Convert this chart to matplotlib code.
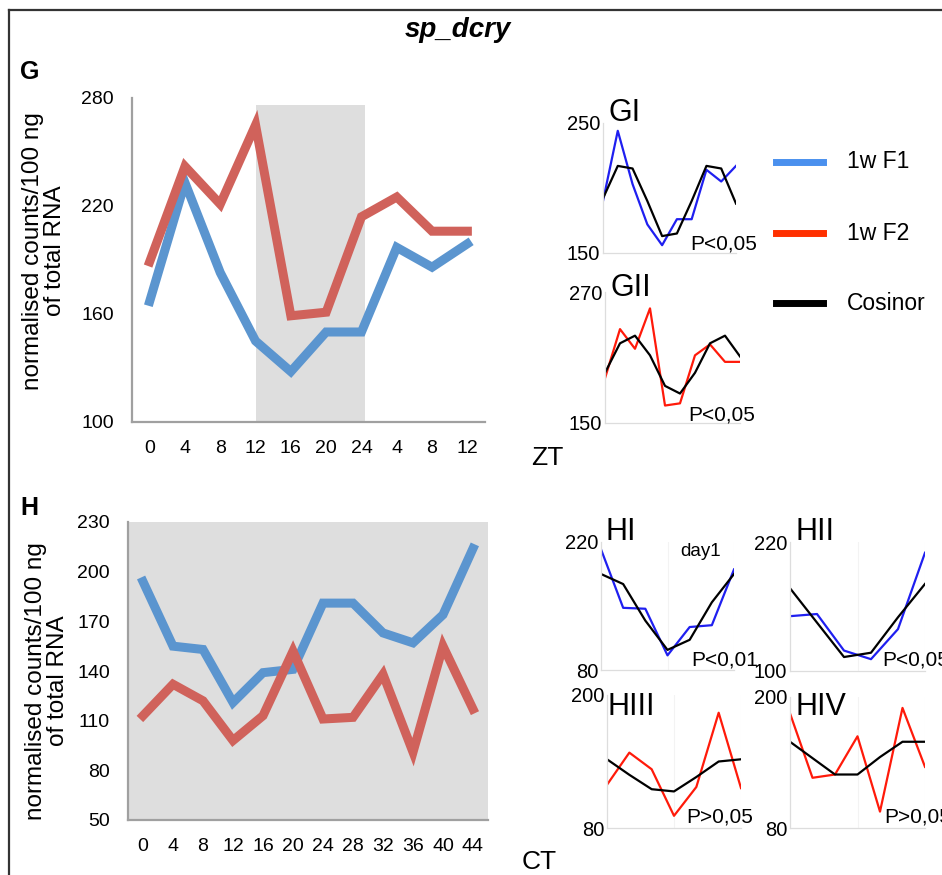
import numpy as np
import matplotlib
matplotlib.use('Agg')
import matplotlib.pyplot as plt
from matplotlib.lines import Line2D

plt.rcParams['font.family'] = ['Liberation Sans', 'DejaVu Sans']

W, H = 942, 875

# ---- data ----
g_labels = ['0', '4', '8', '12', '16', '20', '24', '4', '8', '12']
g_f1 = [167, 233, 183, 145, 128, 150, 150, 197, 186, 199]
g_f2 = [189, 242, 221, 265, 159, 161, 214, 225, 206, 206]

h_labels = ['0', '4', '8', '12', '16', '20', '24', '28', '32', '36', '40', '44']
h_f1 = [194, 155, 153, 121, 139, 141, 181, 181, 163, 157, 174, 214]
h_f2 = [113, 132, 122, 98, 113, 152, 111, 112, 138, 91, 155, 117]

gi_f1 = [190, 244, 203, 172, 156, 176, 176, 214, 205, 217]
gi_cos = [192, 217, 215, 190, 163, 165, 190, 217, 215, 188]
gii_f2 = [191, 236, 218, 255, 166, 168, 212, 222, 206, 206]
gii_cos = [196, 223, 230, 212, 184, 177, 196, 223, 230, 211]

hi_f1 = [212, 148, 147, 96, 127, 129, 190]
hi_cos = [185, 174, 134, 102, 113, 154, 185]
hii_f1 = [151, 153, 119, 111, 139, 210]
hii_cos = [177, 145, 113, 117, 150, 181]
hiii_f2 = [119, 148, 133, 91, 117, 184, 116]
hiii_cos = [142, 128, 115, 113, 126, 140, 142]
hiv_f2 = [185, 126, 129, 164, 95, 190, 136]
hiv_cos = [159, 144, 129, 129, 145, 159, 159]

BLUE_M = '#5b95cf'
RED_M = '#d0625b'
BLUE_S = '#1f1ff0'
RED_S = '#ff1a0a'
YLABEL = 'normalised counts/100 ng\nof total RNA'


def ax_px(l, t, r, b):
    return fig.add_axes([l / W, 1 - b / H, (r - l) / W, (b - t) / H])


def fig_text(x, y, s, **kw):
    fig.text(x / W, 1 - y / H, s, **kw)


fig = plt.figure(figsize=(W / 100, H / 100), dpi=100)

# frame
fig.add_artist(Line2D([9 / W, 1.0], [1 - 9.5 / H] * 2, color='#333333', lw=1.6))
fig.add_artist(Line2D([9 / W] * 2, [0, 1 - 9.5 / H], color='#333333', lw=1.6))

fig_text(458, 30, 'sp_dcry', fontsize=20, fontweight='bold', fontstyle='italic',
         ha='center', va='center')


def main_style(ax, yt):
    for s in ['top', 'right']:
        ax.spines[s].set_visible(False)
    for s in ['left', 'bottom']:
        ax.spines[s].set_color('#a0a0a0')
        ax.spines[s].set_linewidth(1.6)
    ax.set_yticks(yt)
    ax.tick_params(length=0, labelsize=14, pad=13)


# ---- G ----
ax = ax_px(132, 98, 485, 422)
x = np.arange(len(g_labels))
ax.axvspan(3, 6.1, ymax=0.978, color='#dedede', lw=0)
ax.plot(x, g_f1, color=BLUE_M, lw=6.5, solid_joinstyle='miter')
ax.plot(x, g_f2, color=RED_M, lw=6.5, solid_joinstyle='miter')
ax.set_xlim(-0.5, len(g_labels) - 0.5)
ax.set_ylim(100, 280)
ax.set_xticks(x)
ax.set_xticklabels(g_labels)
main_style(ax, [100, 160, 220, 280])
fig_text(44, 251, YLABEL, fontsize=17.5, rotation=90, ha='center', va='center',
         multialignment='center', linespacing=1.0)
fig_text(20, 72, 'G', fontsize=18, fontweight='bold', va='center')
fig_text(531, 458, 'ZT', fontsize=19, va='center')

# ---- H ----
ax = ax_px(128, 522, 488, 820)
ax.set_facecolor('#dedede')
x = np.arange(len(h_labels))
ax.plot(x, h_f1, color=BLUE_M, lw=6.5, solid_joinstyle='miter')
ax.plot(x, h_f2, color=RED_M, lw=6.5, solid_joinstyle='miter')
ax.set_xlim(-0.5, len(h_labels) - 0.5)
ax.set_ylim(50, 230)
ax.set_xticks(x)
ax.set_xticklabels(h_labels)
main_style(ax, [50, 80, 110, 140, 170, 200, 230])
fig_text(47, 681, YLABEL, fontsize=17.5, rotation=90, ha='center', va='center',
         multialignment='center', linespacing=1.0)
fig_text(20, 508, 'H', fontsize=18, fontweight='bold', va='center')
fig_text(522, 862, 'CT', fontsize=19, va='center')


# ---- small panels ----
def small(rect, series, colors, ylim, label, lab_xy, ptxt, p_xy, grid=False):
    ax = ax_px(*rect)
    n = len(series[0])
    if grid:
        for gx in [(n - 1) / 2, n - 1]:
            ax.axvline(gx, color='#f3f3f3', lw=0.8, zorder=0)
    for s, c in zip(series, colors):
        ax.plot(np.arange(n), s, color=c, lw=1.6)
    ax.set_xlim(0, n - 1)
    ax.set_ylim(*ylim)
    ax.set_xticks([])
    ax.set_yticks(ylim)
    ax.tick_params(length=0, labelsize=14.5, pad=2)
    for s in ['top', 'right']:
        ax.spines[s].set_visible(False)
    for s in ['left', 'bottom']:
        ax.spines[s].set_color('#dddddd')
        ax.spines[s].set_linewidth(0.9)
    fig_text(lab_xy[0], lab_xy[1], label, fontsize=22, va='center')
    fig_text(p_xy[0], p_xy[1], ptxt, fontsize=15, va='center')
    return ax


small((603, 123, 736, 253), [gi_f1, gi_cos], [BLUE_S, 'black'], (150, 250),
      'GI', (609, 113), 'P<0,05', (690, 244))
small((605, 292, 740, 423), [gii_f2, gii_cos], [RED_S, 'black'], (150, 270),
      'GII', (611, 288), 'P<0,05', (688, 415))
small((601, 542, 734, 670), [hi_f1, hi_cos], [BLUE_S, 'black'], (80, 220),
      'HI', (606, 532), 'P<0,01', (691, 660), grid=True)
small((790, 542, 925, 671), [hii_f1, hii_cos], [BLUE_S, 'black'], (100, 220),
      'HII', (796, 532), 'P<0,05', (882, 660), grid=True)
small((607, 695, 741, 828), [hiii_f2, hiii_cos], [RED_S, 'black'], (80, 200),
      'HIII', (608, 707), 'P>0,05', (686, 817), grid=True)
small((790, 697, 925, 828), [hiv_f2, hiv_cos], [RED_S, 'black'], (80, 200),
      'HIV', (796, 707), 'P>0,05', (884, 817), grid=True)
fig_text(680, 552, 'day1', fontsize=13.5, va='center')

# ---- legend ----
for yy, c, lab in [(162, '#4a90ee', '1w F1'), (233, '#ff3000', '1w F2'),
                   (303, 'black', 'Cosinor')]:
    fig.add_artist(Line2D([776 / W, 823 / W], [1 - yy / H] * 2, color=c, lw=5))
    fig_text(847, yy, lab, fontsize=16.5, va='center')

fig.savefig('out.png', dpi=100)
